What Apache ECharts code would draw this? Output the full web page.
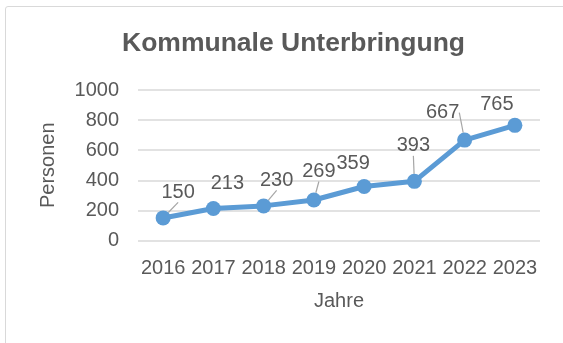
<!DOCTYPE html>
<html>
<head>
<meta charset="utf-8">
<script src="https://cdn.jsdelivr.net/npm/echarts@6/dist/echarts.min.js"></script>
<style>
  html, body { margin: 0; padding: 0; background: #fff; overflow: hidden; }
  #wrap { position: relative; width: 563px; height: 343px; overflow: hidden; }
  #chart { position: absolute; left: 0; top: 0; width: 563px; height: 343px; }
  /* light frame around the chart area, open to the right and bottom */
  #frame {
    position: absolute; left: 5px; top: 6px; width: 700px; height: 500px;
    border: 1.5px solid #d9d9d9; border-radius: 3px; pointer-events: none;
  }
</style>
</head>
<body>
<div id="wrap">
  <div id="chart"></div>
  <div id="frame"></div>
</div>
<script>
// Jahre und Personen in kommunaler Unterbringung
const years = ['2016', '2017', '2018', '2019', '2020', '2021', '2022', '2023'];
const persons = [150, 213, 230, 269, 359, 393, 667, 765];
const yTicks = [0, 200, 400, 600, 800, 1000];

// label shifts from the default "top" spot, and which labels get a leader line
const labelShift = [[15, -3], [14, -2], [13, -3], [5, -6], [-11, 0], [-1, -13], [-22, -5], [-18, 2]];
const leader = [true, false, true, true, false, true, true, false];

const textColor = '#595959';
const font = 'Liberation Sans';

const chart = echarts.init(document.getElementById('chart'), null, { renderer: 'canvas' });

chart.setOption({
  animation: false,
  backgroundColor: 'transparent',
  title: {
    text: 'Kommunale Unterbringung',
    left: 117,
    top: 25,
    textStyle: { fontFamily: font, fontSize: 26.5, fontWeight: 'bold', color: textColor }
  },
  grid: { left: 138, right: 23, top: 90, bottom: 102.5 },
  xAxis: {
    type: 'category',
    data: years,
    boundaryGap: true,
    axisLine: { show: false },
    axisTick: { show: false },
    axisLabel: { fontFamily: font, fontSize: 20, color: textColor, margin: 18, interval: 0 },
    name: 'Jahre',
    nameLocation: 'middle',
    nameGap: 51,
    nameTextStyle: { fontFamily: font, fontSize: 20, color: textColor }
  },
  yAxis: {
    type: 'value',
    min: yTicks[0],
    max: yTicks[yTicks.length - 1],
    interval: yTicks[1] - yTicks[0],
    axisLine: { show: false },
    axisTick: { show: false },
    splitLine: { lineStyle: { color: '#d9d9d9', width: 1.5 } },
    axisLabel: { fontFamily: font, fontSize: 20, color: textColor, margin: 19, formatter: v => String(v) },
    name: 'Personen',
    nameLocation: 'middle',
    nameGap: 80,
    nameTextStyle: { fontFamily: font, fontSize: 20, color: textColor }
  },
  series: [{
    type: 'line',
    data: persons.map((v, i) => ({
      value: v,
      labelLine: { show: leader[i] }
    })),
    symbol: 'circle',
    symbolSize: 15,
    lineStyle: { color: '#5B9BD5', width: 5 },
    itemStyle: { color: '#5B9BD5' },
    label: {
      show: true,
      position: 'top',
      fontFamily: font,
      fontSize: 20,
      color: textColor
    },
    labelLine: { show: true, lineStyle: { color: '#a6a6a6', width: 1.2 } },
    labelLayout: function (params) {
      const s = labelShift[params.dataIndex];
      return { dx: s[0], dy: s[1] };
    }
  }]
});
</script>
</body>
</html>
